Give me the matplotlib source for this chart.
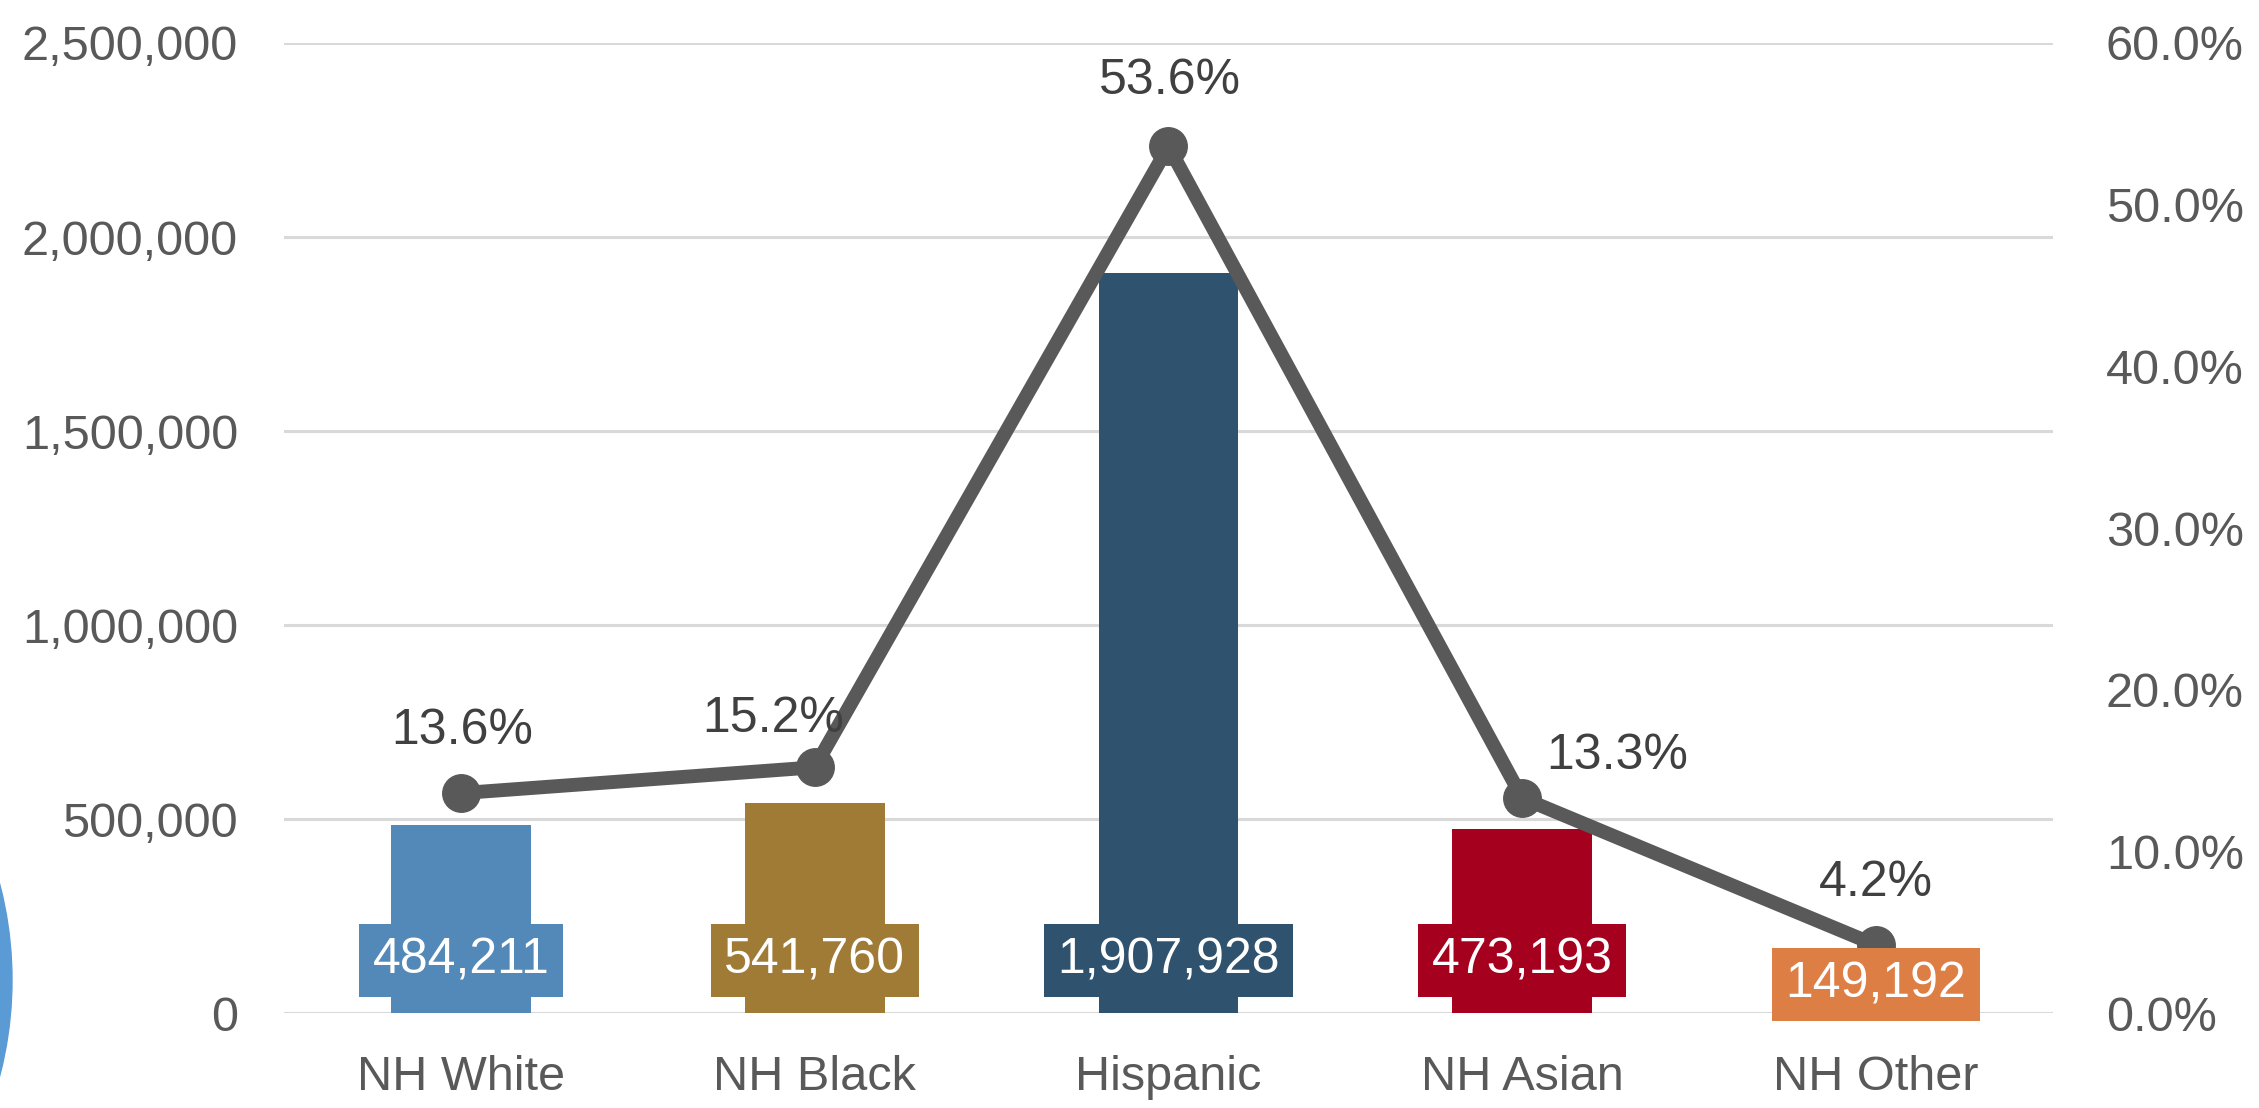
import matplotlib
matplotlib.use("Agg")
import matplotlib.pyplot as plt
from matplotlib.patches import Ellipse
from matplotlib.ticker import FuncFormatter

# datos
grupos = ["NH White", "NH Black", "Hispanic", "NH Asian", "NH Other"]
poblacion = [484211, 541760, 1907928, 473193, 149192]
porcentaje = [13.6, 15.2, 53.6, 13.3, 4.2]
colores = ["#5389b8", "#a07b36", "#2f526e", "#a6001f", "#dd7e45"]

plt.rcParams["font.family"] = ["Liberation Sans", "DejaVu Sans"]

fig = plt.figure(figsize=(22.59, 11.08), dpi=100)
ax = fig.add_axes([0.1257, 0.0857, 0.7831, 0.8755])
ax2 = ax.twinx()

x = range(len(grupos))
ax.bar(x, poblacion, width=0.395, color=colores, zorder=2)
ax.set_xlim(-0.5, len(grupos) - 0.5)
ax.set_ylim(0, 2500000)
ax.set_yticks(range(0, 2500001, 500000))
ax.yaxis.set_major_formatter(FuncFormatter(lambda v, p: f"{int(v):,}"))
ax.grid(axis="y", color="#d9d9d9", linewidth=2.2, zorder=0)
ax.set_axisbelow(True)
ax.set_xticks(list(x))
ax.set_xticklabels(grupos)

ax2.set_ylim(0, 60)
ax2.set_yticks(range(0, 61, 10))
ax2.yaxis.set_major_formatter(FuncFormatter(lambda v, p: f"{v:.1f}%"))

for a in (ax, ax2):
    for s in a.spines.values():
        s.set_visible(False)
    a.tick_params(length=0, labelsize=35, colors="#595959")
ax.tick_params(axis="y", pad=33)
ax.tick_params(axis="x", pad=30)
ax2.tick_params(axis="y", pad=38)

# linea de porcentajes
ax2.plot(x, porcentaje, color="#595959", linewidth=10, marker="o",
         markersize=27, zorder=3)

# etiquetas de porcentaje (desplazamientos a mano como en el original)
desplaz = [(1, 45), (-30, 35), (1, 47), (68, 30), (0, 45)]
for i, p in enumerate(porcentaje):
    ax2.annotate(f"{p}%", (i, p), xytext=desplaz[i], textcoords="offset points",
                 ha="center", va="center", fontsize=36, color="#404040")

# etiquetas de valores en cajas de color
for i, v in enumerate(poblacion):
    ax2.text(i, min(v / 2, 135000), f"{v:,}", transform=ax.transData,
             ha="center", va="center", fontsize=36, color="white", zorder=5,
             bbox=dict(boxstyle="square,pad=0.27", fc=colores[i], ec="none"))

# pedazo de circulo azul en el borde izquierdo
fig.patches.append(Ellipse((-369 / 2259, 1 - 980 / 1108), 2 * 381 / 2259,
                           2 * 381 / 1108, transform=fig.transFigure,
                           color="#5b9bd5", zorder=0))

fig.savefig("out.png", dpi=100)
